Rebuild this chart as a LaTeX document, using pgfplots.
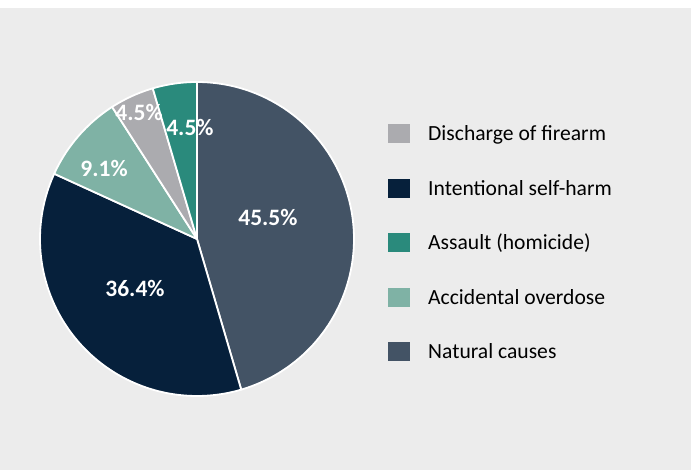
\documentclass[border=0pt]{standalone}
\usepackage{pgfplots}
\pgfplotsset{compat=1.18}
\usepackage{pgfplotstable}
\usepackage{fontspec}
\setmainfont{Carlito}

\definecolor{cnat}{HTML}{435365}
\definecolor{cself}{HTML}{06203B}
\definecolor{cover}{HTML}{7FB2A5}
\definecolor{cfire}{HTML}{ABABAF}
\definecolor{cass}{HTML}{2A8A7C}
\definecolor{bg}{HTML}{ECECEC}

% deaths by cause, clockwise from 12 o'clock
\pgfplotstableread{
value col
10 cnat
8 cself
2 cover
1 cfire
1 cass
}\piedata

\pgfplotsset{sq legend/.style={draw=none, legend image code/.code={\fill[##1] (0pt,-9.5pt) rectangle (22pt,9.5pt);}}}

\begin{document}
\begin{tikzpicture}
\fill[white] (0,0) rectangle (691pt,470pt);
\fill[bg] (0,0) rectangle (691pt,462pt);
\begin{axis}[
    at={(197pt,231pt)}, anchor=center,
    width=314pt, height=314pt, scale only axis,
    hide axis, clip=false,
    xmin=-1, xmax=1, ymin=-1, ymax=1,
    legend cell align=left,
    legend style={at={(axis description cs:1.1083,0.8662)}, anchor=north west,
        draw=none, fill=none, inner sep=0pt, row sep=35.5pt,
        font=\fontsize{21.6}{25}\selectfont,
        cells={inner sep=0pt},
        /tikz/every odd column/.append style={column sep=16pt},
        /tikz/column 2/.append style={nodes={text height=14pt, text depth=0pt}}},
]
\pgfplotstablegetrowsof{\piedata}
\pgfmathtruncatemacro\nrows{\pgfplotsretval-1}
\def\total{0}
\pgfplotsforeachungrouped \i in {0,...,\nrows}{%
  \pgfplotstablegetelem{\i}{value}\of\piedata
  \pgfmathsetmacro\total{\total+\pgfplotsretval}
}
\def\cum{0}
\pgfplotsforeachungrouped \i in {0,...,\nrows}{%
  \pgfplotstablegetelem{\i}{value}\of\piedata \let\sval\pgfplotsretval
  \pgfplotstablegetelem{\i}{col}\of\piedata \let\scol\pgfplotsretval
  \pgfmathsetmacro\sa{90-\cum*360/\total}
  \pgfmathsetmacro\ea{90-(\cum+\sval)*360/\total}
  \pgfmathsetmacro\cum{\cum+\sval}
  \edef\temp{\noexpand\addplot[forget plot, fill=\scol, draw=white, line width=1.8pt,
      line join=round, domain=\ea:\sa, samples=90] ({cos(x)},{sin(x)}) -- (0,0) -- cycle;}
  \temp
}

\addlegendimage{sq legend, fill=cfire}\addlegendentry{Discharge of firearm}
\addlegendimage{sq legend, fill=cself}\addlegendentry{Intentional self-harm}
\addlegendimage{sq legend, fill=cass}\addlegendentry{Assault (homicide)}
\addlegendimage{sq legend, fill=cover}\addlegendentry{Accidental overdose}
\addlegendimage{sq legend, fill=cnat}\addlegendentry{Natural causes}

\begin{scope}[every node/.style={text=white, font=\bfseries\fontsize{23.5}{27}\selectfont}]
\node at (axis cs:0.452,0.140) {45.5\%};
\node at (axis cs:-0.395,-0.318) {36.4\%};
\node at (axis cs:-0.592,0.452) {9.1\%};
\node at (axis cs:-0.369,0.803) {4.5\%};
\node at (axis cs:-0.045,0.713) {4.5\%};
\end{scope}
\end{axis}
\end{tikzpicture}
\end{document}
